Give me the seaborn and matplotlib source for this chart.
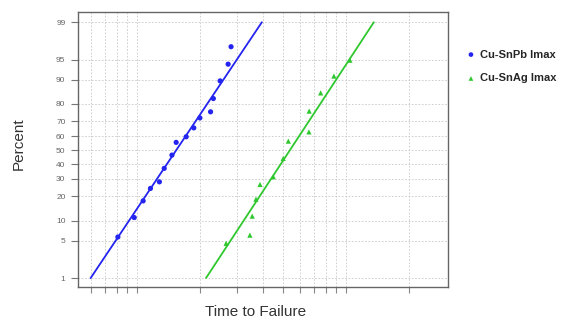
import numpy as np
import pandas as pd
import seaborn as sns
import matplotlib
matplotlib.use("Agg")
import matplotlib.pyplot as plt
from statistics import NormalDist

# time to failure (arbitrary units) and cumulative percent
pb_time = [0.81, 0.97, 1.07, 1.16, 1.28, 1.35, 1.47, 1.54, 1.72, 1.87, 2.00, 2.25, 2.32, 2.50, 2.73, 2.82]
pb_pct = [5.7, 11.0, 17.8, 24.3, 28.2, 37.0, 46.4, 55.6, 59.6, 65.7, 72.1, 75.7, 82.6, 89.6, 94.1, 97.0]

ag_time = [2.67, 3.47, 3.56, 3.71, 3.88, 4.49, 5.01, 5.30, 6.65, 6.67, 7.57, 8.76, 10.45]
ag_pct = [4.5, 6.1, 11.5, 18.6, 26.6, 31.4, 44.0, 56.5, 63.0, 76.1, 85.1, 91.1, 94.9]

# fitted lognormal lines (end points at 1% and 99%)
fit_pct = [1, 99]
pb_fit_time = [0.60, 3.96]
ag_fit_time = [2.14, 13.6]

labels = ["Cu-SnPb Imax", "Cu-SnAg Imax"]
colors = ["#2424f0", "#2ec82e"]

y_ticks = [1, 5, 10, 20, 30, 40, 50, 60, 70, 80, 90, 95, 99]
x_grid = [0.6, 0.7, 0.8, 0.9, 1, 2, 3, 4, 5, 6, 7, 8, 9, 10, 20]

nd = NormalDist()
_fwd = np.vectorize(lambda v: nd.inv_cdf(v / 100.0), otypes=[float])
_inv = np.vectorize(lambda v: nd.cdf(v) * 100.0, otypes=[float])


def prob_fwd(p):
    p = np.clip(np.asarray(p, dtype=float), 1e-6, 100 - 1e-6)
    return _fwd(p)


def prob_inv(z):
    return _inv(np.asarray(z, dtype=float))


pts = pd.DataFrame({
    "time": pb_time + ag_time,
    "pct": pb_pct + ag_pct,
    "group": [labels[0]] * len(pb_time) + [labels[1]] * len(ag_time),
})
fits = pd.DataFrame({
    "time": pb_fit_time + ag_fit_time,
    "pct": fit_pct + fit_pct,
    "group": [labels[0]] * 2 + [labels[1]] * 2,
})

sns.set_style("white")
plt.rcParams['font.family'] = ['Liberation Sans', 'DejaVu Sans']

fig = plt.figure(figsize=(5.69, 3.22), dpi=100)
ax = fig.add_axes([78 / 569, 1 - 287 / 322, 370 / 569, 275 / 322])

ax.set_xscale("log")
ax.set_yscale("function", functions=(prob_fwd, prob_inv))

palette = dict(zip(labels, colors))
sns.lineplot(data=fits, x="time", y="pct", hue="group", palette=palette,
             linewidth=1.3, legend=False, ax=ax, sort=False, estimator=None)
sns.scatterplot(data=pts[pts.group == labels[0]], x="time", y="pct", color=colors[0],
                marker="o", s=14, edgecolor="none", ax=ax, label=labels[0])
sns.scatterplot(data=pts[pts.group == labels[1]], x="time", y="pct", color=colors[1],
                marker="^", s=14, edgecolor="none", ax=ax, label=labels[1])

ax.set_xlim(0.522, 30.8)
ax.set_ylim(0.64, 99.4)

ax.set_yticks(y_ticks)
ax.set_yticklabels([str(t) for t in y_ticks])
ax.yaxis.set_minor_locator(matplotlib.ticker.NullLocator())
ax.set_xticks(x_grid)
ax.set_xticklabels([])
ax.xaxis.set_minor_locator(matplotlib.ticker.NullLocator())

ax.tick_params(axis="y", length=5, width=0.8, color="#777777", labelsize=6,
               labelcolor="#666666", pad=4, left=True)
ax.tick_params(axis="x", length=4, width=0.8, color="#888888", bottom=True)

ax.grid(True, which="major", color="#c8c8c8", linestyle=(0, (2, 2)), linewidth=0.6)
for s in ax.spines.values():
    s.set_color("#666666")
    s.set_linewidth(1.0)

ax.set_xlabel("Time to Failure", fontsize=11, color="#333333")
ax.set_ylabel("Percent", fontsize=11, color="#333333")
ax.xaxis.set_label_coords(0.48, -0.065)
ax.yaxis.set_label_coords(-0.14, 0.52)

leg = ax.legend(loc="upper left", bbox_to_anchor=(1.02, 0.9), frameon=False,
                prop={"weight": "bold", "size": 8}, labelspacing=1.25,
                handletextpad=0.3, handlelength=1.0, markerscale=0.9)

plt.savefig("out.png", dpi=100)
plt.close()
